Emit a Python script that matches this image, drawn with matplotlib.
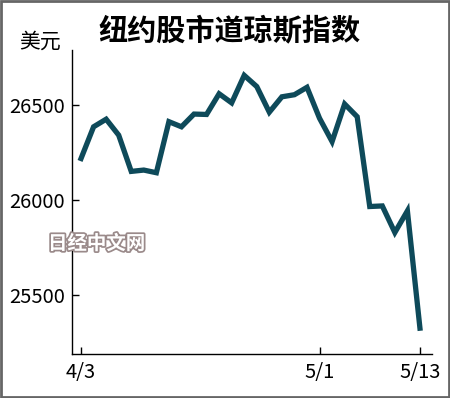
import matplotlib.pyplot as plt
import matplotlib.patheffects as pe
from matplotlib.patches import Rectangle

plt.rcParams['font.family'] = ['Noto Sans CJK SC', 'DejaVu Sans']

# 道琼斯指数收盘（美元），交易日 4/3 ~ 5/13
dates = ["4/3", "4/4", "4/5", "4/8", "4/9", "4/10", "4/11", "4/12",
         "4/15", "4/16", "4/17", "4/18", "4/22", "4/23", "4/24", "4/25",
         "4/26", "4/29", "4/30", "5/1", "5/2", "5/3", "5/6", "5/7",
         "5/8", "5/9", "5/10", "5/13"]
values = [26218, 26385, 26425, 26341, 26150, 26157, 26143, 26412,
          26385, 26452, 26450, 26559, 26511, 26656, 26597, 26462,
          26543, 26554, 26593, 26430, 26307, 26505, 26438, 25965,
          25968, 25828, 25942, 25324]
tick_dates = ["4/3", "5/1", "5/13"]
y_ticks = [25500, 26000, 26500]

fig = plt.figure(figsize=(4.5, 3.98), dpi=100)
ax = fig.add_axes([0.16, 0.1106, 0.80, 0.763])

x = list(range(len(values)))
ax.plot(x, values, color="#0e4a5a", linewidth=3.8, solid_joinstyle="miter")

ax.set_xlim(-0.72, 27.96)
ax.set_ylim(25188, 26788)

ax.set_xticks([dates.index(d) for d in tick_dates])
ax.set_xticklabels(tick_dates)
ax.set_yticks(y_ticks)
ax.set_yticklabels([str(v) for v in y_ticks])
ax.tick_params(direction="in", length=5, width=1, labelsize=14.5, pad=6)
ax.tick_params(axis="y", pad=5)

for s in ["top", "right"]:
    ax.spines[s].set_visible(False)
for s in ["left", "bottom"]:
    ax.spines[s].set_linewidth(1)

fig.text(0.511, 0.925, "纽约股市道琼斯指数", ha="center", va="center",
         fontsize=21, fontweight="bold")
fig.text(0.089, 0.895, "美元", ha="center", va="center", fontsize=15)

# 水印
fig.text(0.215, 0.387, "日经中文网", ha="center", va="center", fontsize=14,
         fontweight="bold", color="white",
         path_effects=[pe.withStroke(linewidth=2.5, foreground="#9a8a8a")])

# 外框
fig.patches.append(Rectangle((0.002, 0.003), 0.996, 0.994, transform=fig.transFigure,
                             fill=False, edgecolor="#666666", linewidth=2))

fig.savefig("out.png", dpi=100)
